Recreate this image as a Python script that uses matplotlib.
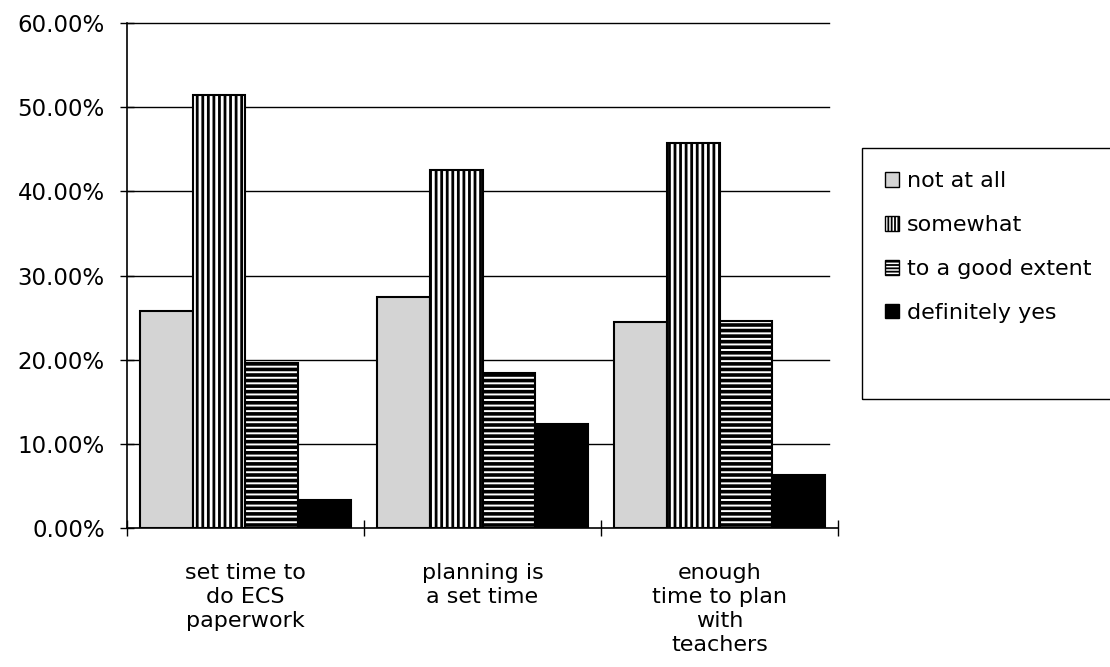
import numpy as np
import matplotlib as mpl
import matplotlib.pyplot as plt
from matplotlib.patches import Patch, Rectangle

categories = ["set time to\ndo ECS\npaperwork", "planning is\na set time", "enough\ntime to plan\nwith\nteachers"]
series = ["not at all", "somewhat", "to a good extent", "definitely yes"]
not_at_all = [25.8, 27.4, 24.5]
somewhat = [51.5, 42.5, 45.7]
good_extent = [19.6, 18.4, 24.6]
definitely = [3.3, 12.3, 6.3]
yticks = [0, 10, 20, 30, 40, 50, 60]

mpl.rcParams['font.family'] = ['DejaVu Sans']

styles = [
    dict(facecolor='#d4d4d4', hatch=None),
    dict(facecolor='white', hatch='|||'),
    dict(facecolor='white', hatch='---'),
    dict(facecolor='black', hatch=None),
]
hatch_lw = [1.0, 2.0, 2.6, 1.0]
# denser patterns for the small legend swatches
legend_hatch = [None, '|||||', '-----', None]

fig = plt.figure(figsize=(11.1, 6.67), dpi=100)
ax = fig.add_axes([0.1144, 0.2084, 0.6406, 0.7571])

x = np.arange(len(categories))
width = 0.222
values = [not_at_all, somewhat, good_extent, definitely]
for i, vals in enumerate(values):
    mpl.rcParams['hatch.linewidth'] = hatch_lw[i]
    ax.bar(x - 1.5 * width + i * width, vals, width, edgecolor='black',
           linewidth=1.5, zorder=3, **styles[i])

ax.set_xlim(-0.5, 2.5)
ax.set_ylim(0, 60)
ax.set_yticks(yticks)
ax.set_yticklabels(["%.2f%%" % v for v in yticks], fontsize=16.5)
for gy in yticks[1:]:
    ax.plot([-0.5, 2.46], [gy, gy], color='black', linewidth=1.0, zorder=1,
            clip_on=False)

ax.spines['top'].set_visible(False)
ax.spines['right'].set_visible(False)
ax.spines['left'].set_linewidth(1.2)
ax.spines['bottom'].set_linewidth(1.2)
ax.tick_params(axis='y', direction='inout', length=10, width=1.0, pad=11)

ax.set_xticks([-0.5, 0.5, 1.5, 2.5])
ax.set_xticklabels([])
ax.tick_params(axis='x', direction='inout', length=12, width=1.0)
for xi, label in zip(x, categories):
    ax.text(xi, -4.2, label, ha='center', va='top', fontsize=16,
            linespacing=1.25)

# legend entries without frame, box drawn separately
handles = []
for i, s in enumerate(series):
    mpl.rcParams['hatch.linewidth'] = 1.3
    handles.append(Patch(edgecolor='black', linewidth=1.0, label=s,
                         facecolor=styles[i]['facecolor'], hatch=legend_hatch[i]))
leg = fig.legend(handles=handles, loc='upper left', bbox_to_anchor=(0.797, 0.743),
                 fontsize=16, frameon=False,
                 handlelength=0.65, handleheight=0.65, handletextpad=0.35,
                 labelspacing=1.07, borderpad=0, borderaxespad=0)
fig.patches.append(Rectangle((0.7766, 0.4018), 0.25, 0.376, transform=fig.transFigure,
                             facecolor='none', edgecolor='black', linewidth=1.0))

fig.savefig('out.png', dpi=100)
